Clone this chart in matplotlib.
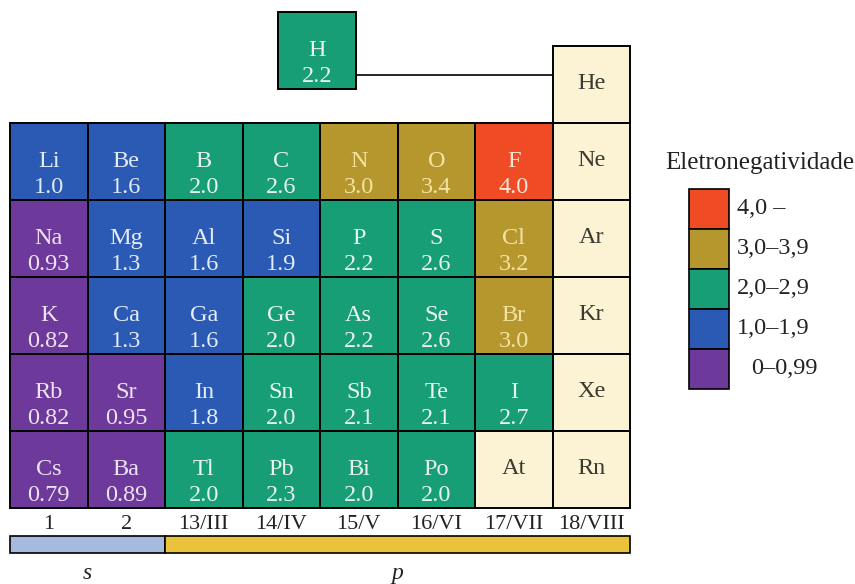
import numpy as np
import matplotlib
matplotlib.use("Agg")
import matplotlib.pyplot as plt
from matplotlib.patches import Rectangle

plt.rcParams['font.family'] = ['Liberation Serif', 'DejaVu Serif']

# Dados: períodos 2 a 6, grupos 1, 2, 13-18
simbolos = [
    ["Li", "Be", "B", "C", "N", "O", "F", "Ne"],
    ["Na", "Mg", "Al", "Si", "P", "S", "Cl", "Ar"],
    ["K", "Ca", "Ga", "Ge", "As", "Se", "Br", "Kr"],
    ["Rb", "Sr", "In", "Sn", "Sb", "Te", "I", "Xe"],
    ["Cs", "Ba", "Tl", "Pb", "Bi", "Po", "At", "Rn"],
]
valores = [
    [1.0, 1.6, 2.0, 2.6, 3.0, 3.4, 4.0, None],
    [0.93, 1.3, 1.6, 1.9, 2.2, 2.6, 3.2, None],
    [0.82, 1.3, 1.6, 2.0, 2.2, 2.6, 3.0, None],
    [0.82, 0.95, 1.8, 2.0, 2.1, 2.1, 2.7, None],
    [0.79, 0.89, 2.0, 2.3, 2.0, 2.0, None, None],
]
h_simbolo, h_valor = "H", 2.2
grupos = ["1", "2", "13/III", "14/IV", "15/V", "16/VI", "17/VII", "18/VIII"]
blocos = ["s", "p"]
blocos_largura = [2, 6]

faixas = ["0–0,99", "1,0–1,9", "2,0–2,9", "3,0–3,9", "4,0 –"]
limites = [0, 1.0, 2.0, 3.0, 4.0]
cores = ["#6D3A9B", "#2A5AB4", "#189E77", "#B6972D", "#EF4C25"]
cores_texto = ["#EDE3F2", "#E4ECF7", "#E6F4EC", "#F3E3A3", "#FBE6D8"]
creme = "#FBF3D3"
cores_bloco = ["#A6B9DF", "#EBC23C"]


def classe(v):
    return int(np.searchsorted(limites, v, side="right") - 1)


def fmt(v):
    return f"{v:.1f}" if round(v, 1) == v else f"{v:.2f}"


fig = plt.figure(figsize=(8.55, 5.84), dpi=100)
ax = fig.add_axes([0, 0, 1, 1])
W, HH = 77.5, 77.0  # pixels por célula
ax.set_xlim(-10 / W, (855 - 10) / W)
ax.set_ylim((584 - 46) / HH, -46 / HH)
ax.axis("off")

fs = 17.5


def celula(x, y, cor, sim, val, cor_txt):
    ax.add_patch(Rectangle((x, y), 1, 1, facecolor=cor, edgecolor="black", lw=1.4))
    if val is None:
        ax.text(x + 0.5, y + 0.49, sim, ha="center", va="center",
                fontsize=fs, color="#3A3A30")
    else:
        ax.text(x + 0.5, y + 0.50, sim, ha="center", va="center",
                fontsize=fs, color=cor_txt)
        ax.text(x + 0.5, y + 0.84, fmt(val), ha="center", va="center",
                fontsize=fs, color=cor_txt)


# Tabela principal
for i, (linha_s, linha_v) in enumerate(zip(simbolos, valores)):
    for j, (s, v) in enumerate(zip(linha_s, linha_v)):
        if v is None:
            celula(j, i + 1, creme, s, None, None)
        else:
            k = classe(v)
            celula(j, i + 1, cores[k], s, v, cores_texto[k])

# He
celula(7, 0, creme, "He", None, None)

# H (deslocado)
hx, hy = (278 - 10) / W, (12 - 46) / HH
k = classe(h_valor)
celula(hx, hy, cores[k], h_simbolo, h_valor, cores_texto[k])
ax.plot([hx + 1, 7], [(75 - 46) / HH] * 2, color="black", lw=1.2)

# Grupos
for j, g in enumerate(grupos):
    ax.text(j + 0.5, 6.21, g, ha="center", va="center", fontsize=16, color="#222222")

# Barra dos blocos
x0 = 0
for b, largura, cor in zip(blocos, blocos_largura, cores_bloco):
    ax.add_patch(Rectangle((x0, 6.364), largura, 0.22, facecolor=cor,
                           edgecolor="black", lw=1.2))
    ax.text(x0 + largura / 2, 6.85, b, ha="center", va="center",
            fontsize=17, style="italic", color="#222222")
    x0 += largura

# Legenda
lx, ly = (689 - 10) / W, (189 - 46) / HH
lw_, lh = 40 / W, 40 / HH
ax.text((760 - 10) / W, (163 - 46) / HH, "Eletronegatividade", ha="center",
        va="center", fontsize=18, color="#222222")
for n, (faixa, cor) in enumerate(zip(faixas[::-1], cores[::-1])):
    y = ly + n * lh
    ax.add_patch(Rectangle((lx, y), lw_, lh, facecolor=cor, edgecolor="black", lw=1.2))
    dx = 0.18 if faixa.startswith("0–") else 0.0
    ax.text(lx + lw_ + 8 / W + dx, y + lh / 2, faixa, ha="left", va="center",
            fontsize=17.5, color="#222222")

fig.savefig("out.png", dpi=100)
